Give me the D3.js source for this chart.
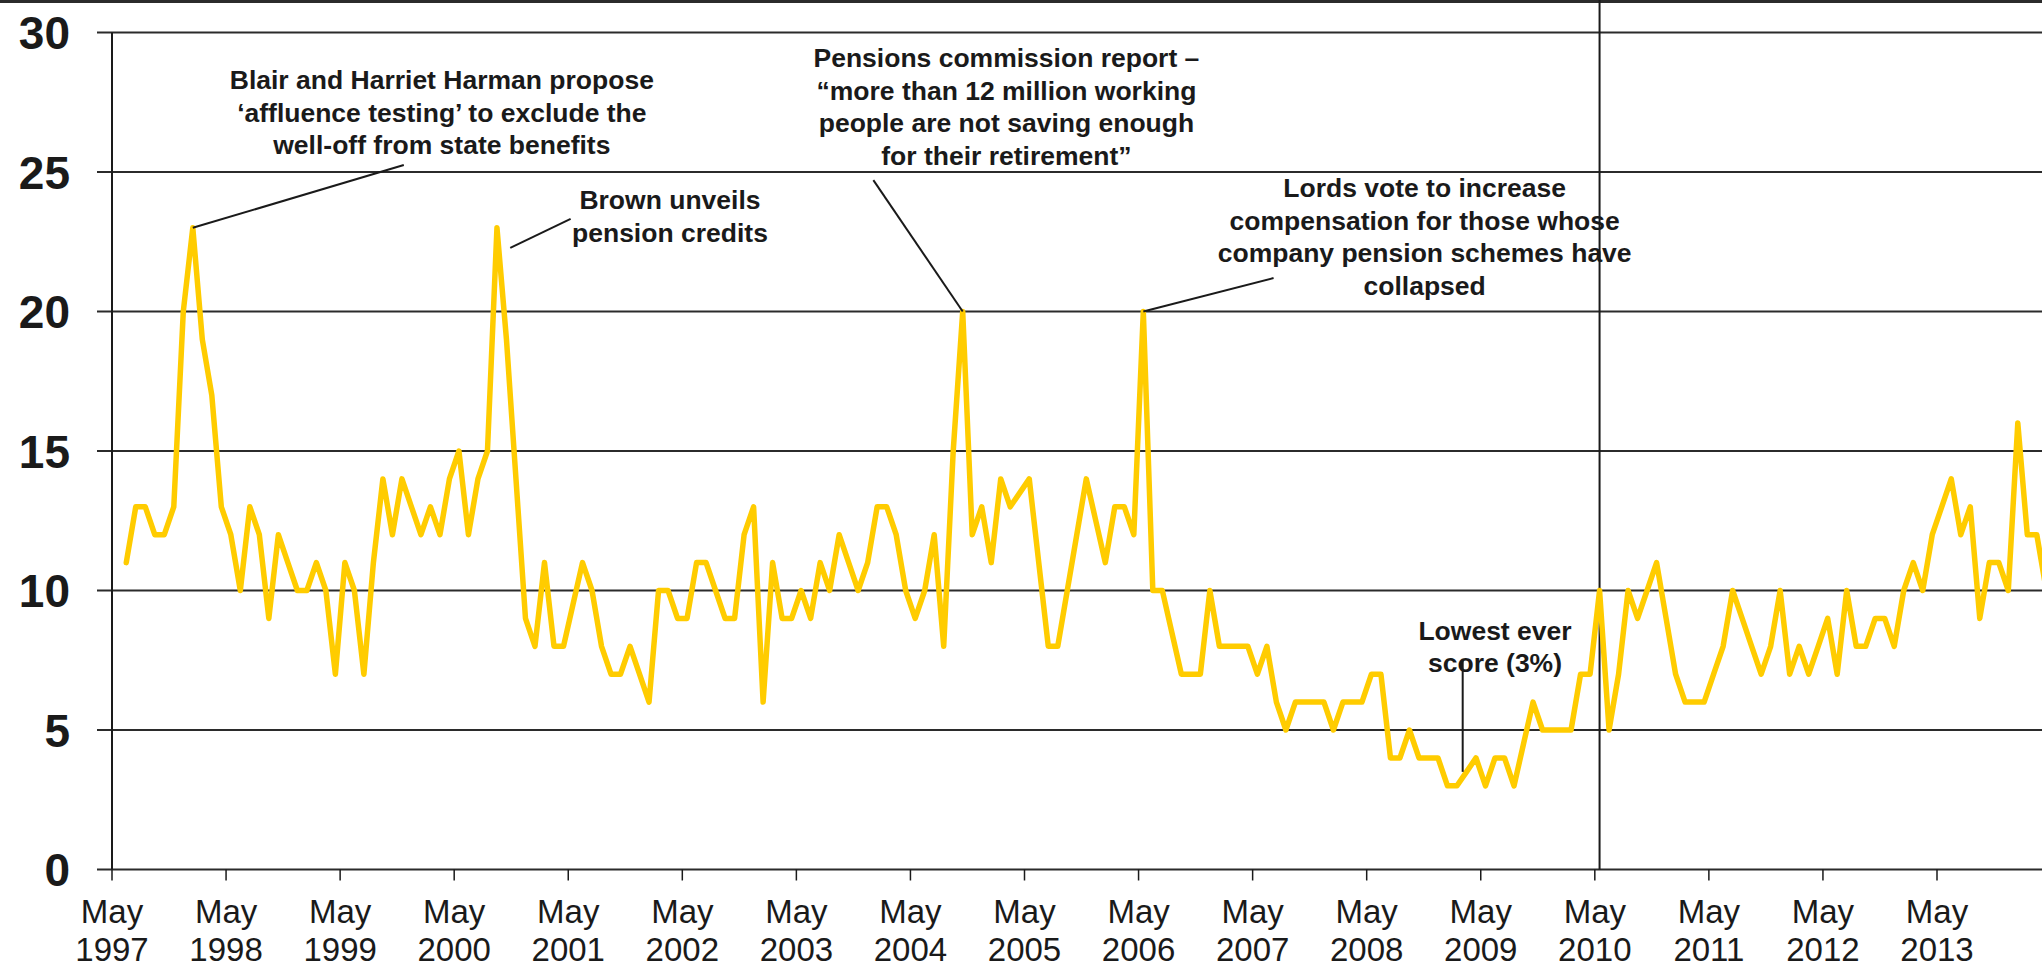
<!DOCTYPE html>
<html>
<head>
<meta charset="utf-8">
<script src="https://cdn.jsdelivr.net/npm/d3@7"></script>
<style>
  html, body { margin: 0; padding: 0; background: #fff; }
  svg { display: block; }
  text { font-family: "Liberation Sans", Arial, Helvetica, sans-serif; fill: #1a1a1a; }
  .y-label { font-size: 46px; font-weight: bold; }
  .x-label { font-size: 33px; }
  .note { font-size: 26.5px; font-weight: bold; }
</style>
</head>
<body>
<svg id="chart"></svg>
<script>
// months are counted from May 1997 (= 0); first score is June 1997
const FIRST_MONTH = 1;
const SCORES = [
  11, 13, 13, 12, 12, 13, 20, 23, 19, 17, 13,
  12, 10, 13, 12, 9, 12, 11, 10, 10, 11, 10, 7,
  11, 10, 7, 11, 14, 12, 14, 13, 12, 13, 12, 14,
  15, 12, 14, 15, 23, 19, 14, 9, 8, 11, 8, 8,
  9.5, 11, 10, 8, 7, 7, 8, 7, 6, 10, 10, 9,
  9, 11, 11, 10, 9, 9, 12, 13, 6, 11, 9, 9,
  10, 9, 11, 10, 12, 11, 10, 11, 13, 13, 12, 10,
  9, 10, 12, 8, 15, 20, 12, 13, 11, 14, 13, 13.5,
  14, 11, 8, 8, 10, 12, 14, 12.5, 11, 13, 13, 12,
  20, 10, 10, 8.5, 7, 7, 7, 10, 8, 8, 8, 8,
  7, 8, 6, 5, 6, 6, 6, 6, 5, 6, 6, 6,
  7, 7, 4, 4, 5, 4, 4, 4, 3, 3, 3.5, 4,
  3, 4, 4, 3, 4.5, 6, 5, 5, 5, 5, 7, 7,
  10, 5, 7, 10, 9, 10, 11, 9, 7, 6, 6, 6,
  7, 8, 10, 9, 8, 7, 8, 10, 7, 8, 7, 8,
  9, 7, 10, 8, 8, 9, 9, 8, 10, 11, 10, 12,
  13, 14, 12, 13, 9, 11, 11, 10, 16, 12, 12, 10
];
const YEARS = [1997, 1998, 1999, 2000, 2001, 2002, 2003, 2004, 2005,
               2006, 2007, 2008, 2009, 2010, 2011, 2012, 2013];
const Y_TICKS = [0, 5, 10, 15, 20, 25, 30];
const ELECTION_MONTH = 156;   // May 2010

// lines of text, at: [month, score] of the first baseline, from/to: leader line ends
const NOTES = [
  {lines: ["Blair and Harriet Harman propose", "\u2018affluence testing\u2019 to exclude the", "well-off from state benefits"],
   at: [34.2, 27.97], from: [8, 23], to: [30.2, 25.25]},
  {lines: ["Brown unveils", "pension credits"],
   at: [58.2, 23.67], from: [41.4, 22.28], to: [47.75, 23.32]},
  {lines: ["Pensions commission report \u2013", "\u201cmore than 12 million working", "people are not saving enough", "for their retirement\u201d"],
   at: [93.6, 28.76], from: [89, 20], to: [79.6, 24.71]},
  {lines: ["Lords vote to increase", "compensation for those whose", "company pension schemes have", "collapsed"],
   at: [137.6, 24.1], from: [108, 20], to: [121.7, 21.2]},
  {lines: ["Lowest ever", "score (3%)"],
   at: [145, 8.23], from: [141.6, 3.5], to: [141.6, 7.5]}
];

const WIDTH = 2042, HEIGHT = 967;
const LINE_GAP = 32.5;

let svg = d3.select("#chart").attr("width", WIDTH).attr("height", HEIGHT);

// point for month m sits in the middle of its month slot
let x = d3.scaleLinear().domain([0, 192]).range([112, 1937]);
let y = d3.scaleLinear().domain([0, 30]).range([869.5, 32.5]);
const px = m => x(m + 0.5);

// top frame line
svg.append("line")
   .attr("x1", 0).attr("x2", WIDTH)
   .attr("y1", 1.5).attr("y2", 1.5)
   .attr("stroke", "#2b2b2b").attr("stroke-width", 3);

// horizontal gridlines (0 is the x axis)
svg.append("g").selectAll("line")
   .data(Y_TICKS).enter().append("line")
   .attr("x1", x(0) - 15).attr("x2", WIDTH)
   .attr("y1", d => y(d)).attr("y2", d => y(d))
   .attr("stroke", "#2b2b2b").attr("stroke-width", 2);

svg.append("g").selectAll("text")
   .data(Y_TICKS).enter().append("text")
   .attr("class", "y-label")
   .attr("x", 70)
   .attr("y", d => y(d))
   .attr("dy", "0.36em")
   .attr("text-anchor", "end")
   .text(d => d);

// y axis line
svg.append("line")
   .attr("x1", x(0)).attr("x2", x(0))
   .attr("y1", y(30)).attr("y2", y(0))
   .attr("stroke", "#1a1a1a").attr("stroke-width", 2);

// x ticks and labels, one per May
let xTicks = svg.append("g").selectAll("g")
                .data(YEARS).enter().append("g")
                .attr("transform", d => `translate(${x((d - 1997) * 12)},0)`);

xTicks.append("line")
      .attr("y1", y(0)).attr("y2", y(0) + 11)
      .attr("stroke", "#1a1a1a").attr("stroke-width", 1.5);

xTicks.append("text")
      .attr("class", "x-label")
      .attr("text-anchor", "middle")
      .attr("y", 923)
      .text("May");

xTicks.append("text")
      .attr("class", "x-label")
      .attr("text-anchor", "middle")
      .attr("y", 961)
      .text(d => d);

// May 2010 marker
svg.append("line")
   .attr("x1", px(ELECTION_MONTH)).attr("x2", px(ELECTION_MONTH))
   .attr("y1", 0).attr("y2", y(0))
   .attr("stroke", "#1a1a1a").attr("stroke-width", 2);

// score line
let line = d3.line()
             .x((d, i) => px(FIRST_MONTH + i))
             .y(d => y(d));

svg.append("path")
   .datum(SCORES)
   .attr("d", line)
   .attr("fill", "none")
   .attr("stroke", "#ffcc00")
   .attr("stroke-width", 5.5)
   .attr("stroke-linejoin", "round")
   .attr("stroke-linecap", "round");

// annotations
let notes = svg.append("g").selectAll("g")
               .data(NOTES).enter().append("g");

notes.append("line")
     .attr("x1", d => px(d.from[0])).attr("y1", d => y(d.from[1]))
     .attr("x2", d => px(d.to[0])).attr("y2", d => y(d.to[1]))
     .attr("stroke", "#1a1a1a").attr("stroke-width", 2);

notes.append("text")
     .attr("class", "note")
     .attr("text-anchor", "middle")
     .each(function(d) {
        let t = d3.select(this);
        d.lines.forEach((s, i) => {
          t.append("tspan")
           .attr("x", px(d.at[0]))
           .attr("y", y(d.at[1]) + i * LINE_GAP)
           .text(s);
        });
     });
</script>
</body>
</html>
